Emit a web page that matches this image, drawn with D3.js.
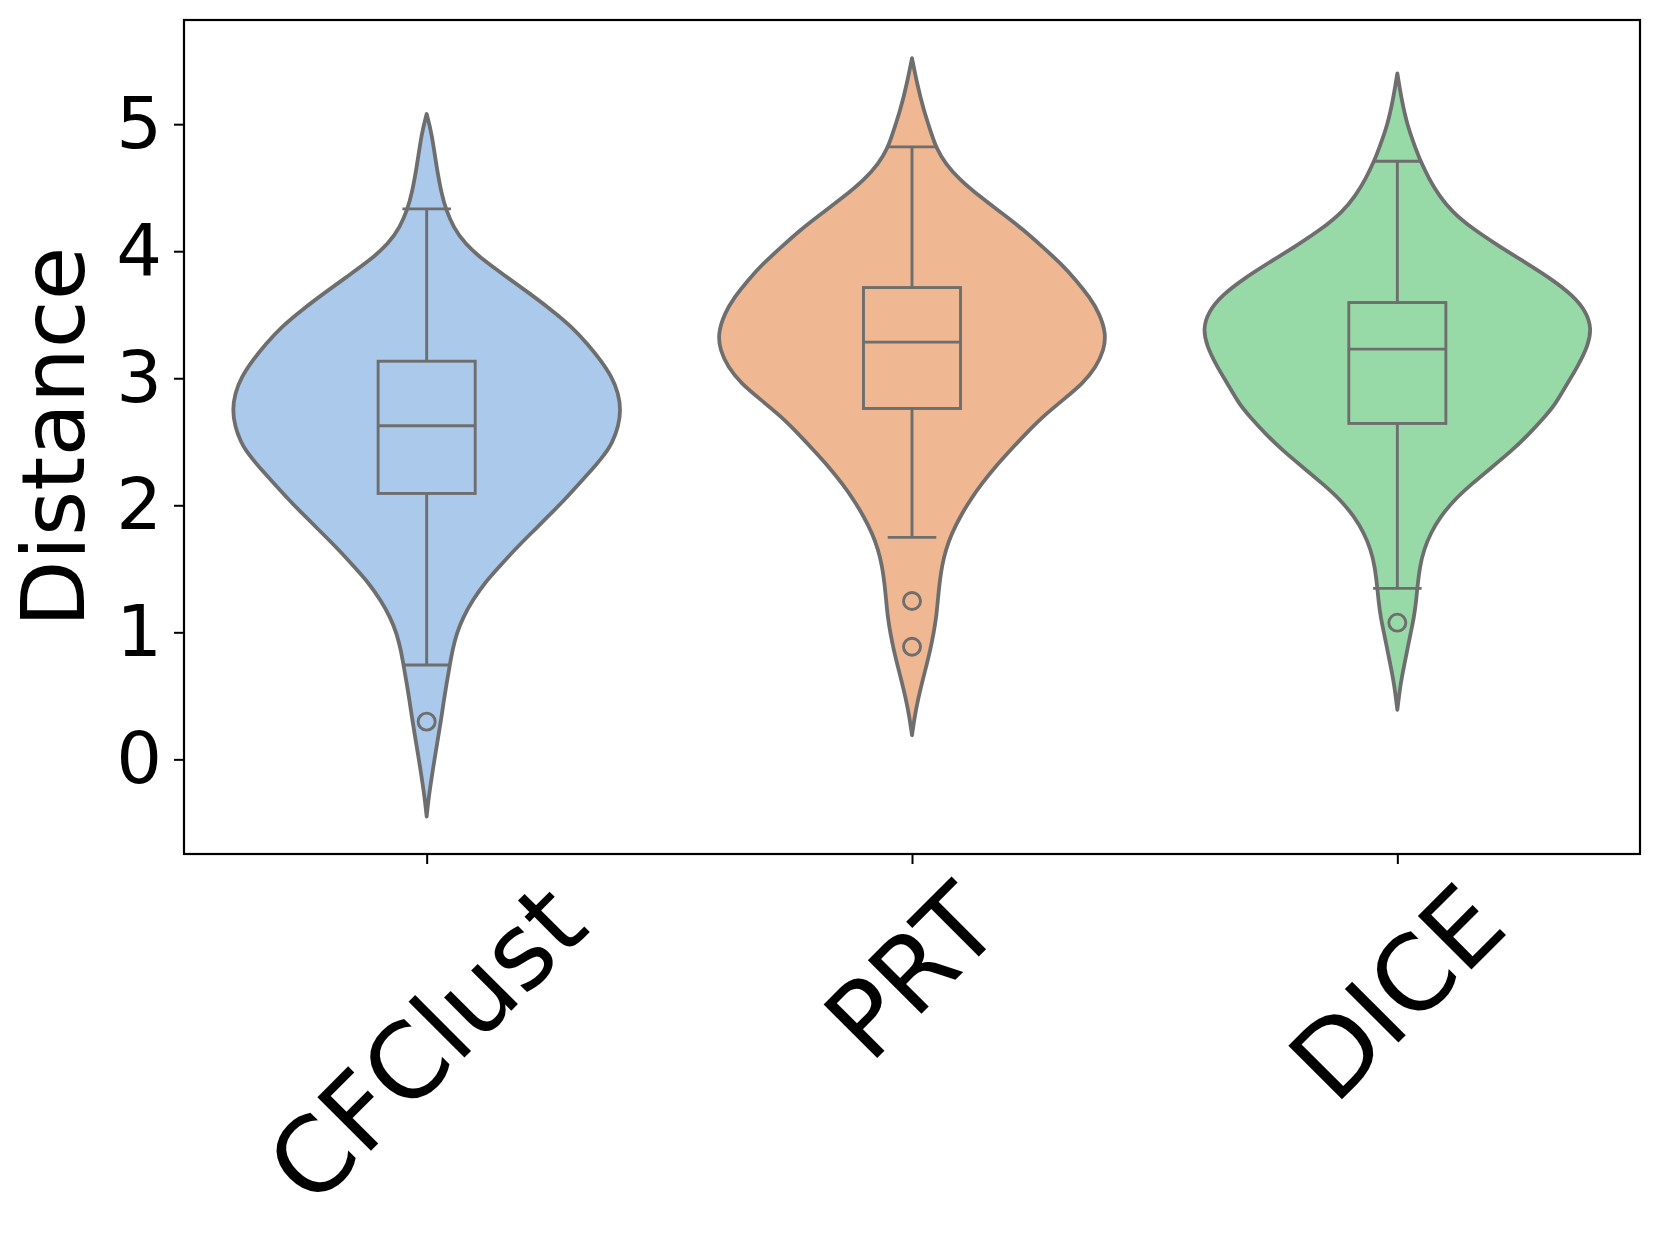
<!DOCTYPE html>
<html>
<head>
<meta charset="utf-8">
<script src="https://cdn.jsdelivr.net/npm/d3@7"></script>
<style>
  html, body { margin: 0; padding: 0; background: #ffffff; }
  svg { display: block; }
  text { font-family: "DejaVu Sans", sans-serif; fill: #000; }
</style>
</head>
<body>
<svg id="chart" width="1661" height="1240"></svg>
<script>
// ---- Data ----
const categories = ["CFClust", "PRT", "DICE"];
const fillColors = ["#abc9ea", "#efb792", "#98daa7"];
const yTicks = [0, 1, 2, 3, 4, 5];

// Violin outlines: [value, relative density (1 = widest)]
const densityCFClust = [
  [5.08,0],[4.93,0.026],[4.66,0.051],[4.45,0.077],[4.33,0.099],[4.19,0.137],[4.06,0.196],
  [3.93,0.291],[3.80,0.410],[3.67,0.528],[3.54,0.641],[3.41,0.744],[3.27,0.829],[3.14,0.897],
  [3.01,0.954],[2.88,0.988],[2.75,1.0],[2.62,0.988],[2.49,0.955],[2.43,0.930],[2.36,0.895],
  [2.30,0.862],[2.17,0.785],[2.04,0.708],[1.91,0.624],[1.78,0.538],[1.65,0.453],[1.52,0.376],
  [1.39,0.299],[1.25,0.236],[1.12,0.188],[0.99,0.154],[0.86,0.133],[0.74,0.119],[0.60,0.103],
  [0.47,0.089],[0.34,0.077],[0.21,0.063],[0.07,0.048],[-0.06,0.034],[-0.19,0.021],[-0.32,0.009],[-0.45,0]
];
const densityPRT = [
  [5.52,0],[5.32,0.026],[5.11,0.060],[4.93,0.099],[4.82,0.123],[4.69,0.171],[4.56,0.248],
  [4.43,0.350],[4.30,0.462],[4.17,0.573],[4.03,0.675],[3.90,0.769],[3.77,0.846],[3.64,0.914],
  [3.51,0.966],[3.35,1.0],[3.22,0.988],[3.09,0.949],[2.96,0.881],[2.83,0.778],[2.70,0.675],
  [2.57,0.590],[2.43,0.504],[2.30,0.427],[2.17,0.359],[2.04,0.299],[1.91,0.248],[1.78,0.205],
  [1.65,0.174],[1.52,0.154],[1.39,0.142],[1.25,0.133],[1.12,0.125],[0.99,0.111],[0.86,0.094],
  [0.73,0.073],[0.60,0.051],[0.47,0.031],[0.34,0.014],[0.19,0]
];
const densityDICE = [
  [5.40,0],[5.20,0.021],[4.99,0.051],[4.81,0.094],[4.71,0.119],[4.57,0.163],[4.44,0.214],
  [4.31,0.282],[4.18,0.385],[4.05,0.513],[3.92,0.650],[3.79,0.786],[3.65,0.906],[3.52,0.974],
  [3.39,1.0],[3.26,0.983],[3.10,0.932],[2.95,0.872],[2.79,0.812],[2.70,0.761],[2.57,0.684],
  [2.43,0.590],[2.30,0.487],[2.17,0.385],[2.04,0.291],[1.91,0.222],[1.78,0.171],[1.65,0.137],
  [1.52,0.116],[1.35,0.103],[1.25,0.097],[1.12,0.086],[0.99,0.068],[0.86,0.051],[0.73,0.034],
  [0.60,0.017],[0.39,0]
];

// Box statistics: whisker low, Q1, median, Q3, whisker high
const whiskerLow  = [0.743, 1.747, 1.346];
const q1Values    = [2.093, 2.762, 2.644];
const medians     = [2.626, 3.284, 3.229];
const q3Values    = [3.134, 3.714, 3.596];
const whiskerHigh = [4.333, 4.821, 4.708];
const outliers    = [[0.297], [1.246, 0.887], [1.076]];

const densities = [densityCFClust, densityPRT, densityDICE];

// ---- Layout ----
const plot = { left: 184, right: 1640, top: 20, bottom: 854 };
const svg = d3.select("#chart");

const x = d3.scalePoint().domain(categories).range([plot.left, plot.right]).padding(0.5);
const step = x.step();
const y = d3.scaleLinear().domain([-0.745, 5.82]).range([plot.bottom, plot.top]);
const halfW = d3.scaleLinear().domain([0, 1]).range([0, 0.4 * step]);

const lineColor = "#6e6e6e";

const g = svg.append("g");

categories.forEach((cat, i) => {
  const cx = x(cat);
  const area = d3.area()
    .curve(d3.curveBasis)
    .y(d => y(d[0]))
    .x0(d => cx - halfW(d[1]))
    .x1(d => cx + halfW(d[1]));
  g.append("path")
    .datum(densities[i])
    .attr("d", area)
    .attr("fill", fillColors[i])
    .attr("stroke", lineColor)
    .attr("stroke-width", 3.8)
    .attr("stroke-linejoin", "round");

  const bw = 0.1 * step;   // half box width
  const cw = 0.05 * step;  // half cap width
  const bg = g.append("g").attr("stroke", lineColor).attr("stroke-width", 2.9).attr("fill", "none");
  bg.append("line").attr("x1", cx).attr("x2", cx).attr("y1", y(q3Values[i])).attr("y2", y(whiskerHigh[i]));
  bg.append("line").attr("x1", cx).attr("x2", cx).attr("y1", y(q1Values[i])).attr("y2", y(whiskerLow[i]));
  bg.append("line").attr("x1", cx - cw).attr("x2", cx + cw).attr("y1", y(whiskerHigh[i])).attr("y2", y(whiskerHigh[i]));
  bg.append("line").attr("x1", cx - cw).attr("x2", cx + cw).attr("y1", y(whiskerLow[i])).attr("y2", y(whiskerLow[i]));
  bg.append("rect")
    .attr("x", cx - bw).attr("width", 2 * bw)
    .attr("y", y(q3Values[i])).attr("height", y(q1Values[i]) - y(q3Values[i]))
    .attr("fill", fillColors[i]);
  bg.append("line").attr("x1", cx - bw).attr("x2", cx + bw).attr("y1", y(medians[i])).attr("y2", y(medians[i]));
  outliers[i].forEach(v => {
    bg.append("circle").attr("cx", cx).attr("cy", y(v)).attr("r", 8.5).attr("fill", "none");
  });
});

// ---- Axes ----
const yAxis = d3.axisLeft(y).tickValues(yTicks).tickSize(10).tickPadding(12).tickFormat(d3.format("d"));
const yg = svg.append("g").attr("transform", `translate(${plot.left},0)`).call(yAxis);
yg.select(".domain").remove();
yg.selectAll(".tick line").attr("stroke", "#000").attr("stroke-width", 2);
yg.selectAll(".tick text").attr("font-size", 72).attr("font-family", "DejaVu Sans").attr("fill", "#000");

const xAxis = d3.axisBottom(x).tickSize(10).tickFormat("");
const xg = svg.append("g").attr("transform", `translate(0,${plot.bottom})`).call(xAxis);
xg.select(".domain").remove();
xg.selectAll(".tick line").attr("stroke", "#000").attr("stroke-width", 2);

svg.append("rect")
  .attr("x", plot.left).attr("y", plot.top)
  .attr("width", plot.right - plot.left).attr("height", plot.bottom - plot.top)
  .attr("fill", "none").attr("stroke", "#000").attr("stroke-width", 2.2);

// rotated x tick labels (centered on tick, top aligned)
const xFont = 104;
const labelTop = plot.bottom + 8;
categories.forEach(cat => {
  const t = svg.append("text")
    .attr("font-size", xFont)
    .attr("text-anchor", "middle")
    .attr("dy", (0.346 * xFont) + "px")
    .text(cat);
  const L = t.node().getComputedTextLength();
  const h = 1.164 * xFont;
  const half = (L + h) / (2 * Math.SQRT2);
  t.attr("transform", `translate(${x(cat)},${labelTop + half}) rotate(-45)`);
});

// y label
svg.append("text")
  .attr("font-size", 87)
  .attr("text-anchor", "middle")
  .attr("transform", `translate(84,${(plot.top + plot.bottom) / 2}) rotate(-90)`)
  .text("Distance");
</script>
</body>
</html>
